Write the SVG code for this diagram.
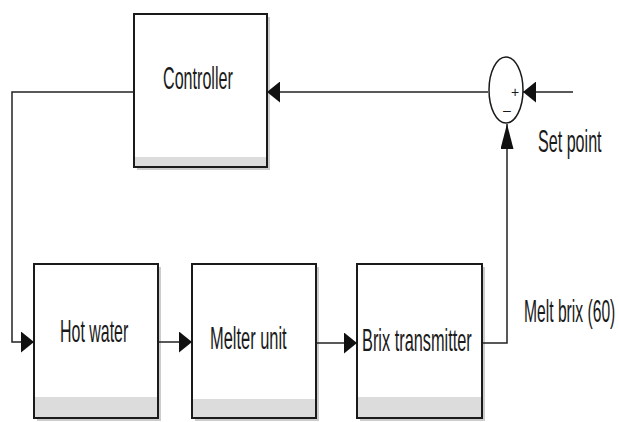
<svg xmlns="http://www.w3.org/2000/svg" width="619" height="422" viewBox="0 0 619 422">
  <style>
    .shadow { fill: #9a9a9a; opacity: 0.5; }
    .box { fill: #ffffff; stroke: #1a1a1a; stroke-width: 2; }
    .band { fill: #dcdcdc; }
    .lbl { font-family: "Liberation Sans", Arial, sans-serif; font-size: 31px; fill: #1a1a1a; }
    .sign { font-family: "Liberation Sans", Arial, sans-serif; font-size: 14px; fill: #1a1a1a; }
    .wire { fill: none; stroke: #222222; stroke-width: 1.5; }
  </style>
  <defs>
    <marker id="ah" markerUnits="userSpaceOnUse" markerWidth="13" markerHeight="21" refX="13" refY="10.5" orient="auto" viewBox="0 0 13 21">
      <path d="M0,0 L13,10.5 L0,21 z" fill="#111111"/>
    </marker>
    <marker id="ahv" markerUnits="userSpaceOnUse" markerWidth="25" markerHeight="13" refX="25" refY="6.5" orient="auto" viewBox="0 0 25 13">
      <path d="M0,0 L25,6.5 L0,13 z" fill="#111111"/>
    </marker>
  </defs>

  <g id="controller">
    <rect class="shadow" x="137" y="17" width="133" height="153"/>
    <rect class="box" x="134" y="14" width="133" height="153"/>
    <rect class="band" x="135" y="157" width="131" height="9"/>
    <text class="lbl" transform="translate(163,89) scale(0.52,1)">Controller</text>
  </g>

  <g id="hot-water">
    <rect class="shadow" x="37" y="267" width="124" height="154"/>
    <rect class="box" x="34" y="264" width="124" height="154"/>
    <rect class="band" x="35" y="397" width="122" height="20"/>
    <text class="lbl" transform="translate(60,342) scale(0.515,1)">Hot water</text>
  </g>

  <g id="melter-unit">
    <rect class="shadow" x="195" y="267" width="124" height="154"/>
    <rect class="box" x="192" y="264" width="124" height="154"/>
    <rect class="band" x="193" y="399" width="122" height="18"/>
    <text class="lbl" transform="translate(210,349) scale(0.53,1)">Melter unit</text>
  </g>

  <g id="brix-transmitter">
    <rect class="shadow" x="360" y="267" width="125" height="154"/>
    <rect class="box" x="357" y="264" width="125" height="154"/>
    <rect class="band" x="358" y="397" width="123" height="20"/>
    <text class="lbl" transform="translate(362,351) scale(0.527,1)">Brix transmitter</text>
  </g>

  <g id="sum-junction">
    <ellipse cx="506" cy="90" rx="17" ry="33" fill="#ffffff" stroke="#1a1a1a" stroke-width="1.5"/>
    <text class="sign" x="515" y="97" text-anchor="middle">+</text>
    <text class="sign" x="507" y="115" text-anchor="middle">–</text>
  </g>

  <g id="labels">
    <text class="lbl" transform="translate(538,152) scale(0.52,1)">Set point</text>
    <text class="lbl" transform="translate(524,322) scale(0.505,1)">Melt brix (60)</text>
  </g>

  <g id="connectors">
    <path class="wire" d="M134,92 H12 V342 H34" marker-end="url(#ah)"/>
    <path class="wire" d="M158,342 H192" marker-end="url(#ah)"/>
    <path class="wire" d="M316,343 H357" marker-end="url(#ah)"/>
    <path class="wire" d="M482,343 H507 V124" marker-end="url(#ahv)"/>
    <path class="wire" d="M488,92 H267" marker-end="url(#ah)"/>
    <path class="wire" d="M573,92 H523" marker-end="url(#ah)"/>
  </g>
</svg>
